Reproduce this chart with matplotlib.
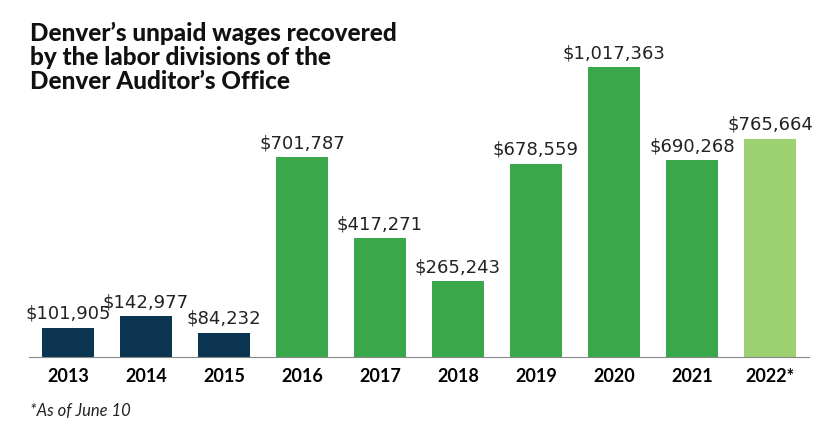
import matplotlib
matplotlib.use("Agg")
import matplotlib.pyplot as plt

years = ["2013", "2014", "2015", "2016", "2017", "2018", "2019", "2020", "2021", "2022*"]
values = [101905, 142977, 84232, 701787, 417271, 265243, 678559, 1017363, 690268, 765664]
colors = ["#0b3550"] * 3 + ["#3aa84a"] * 6 + ["#9dd070"]

fig = plt.figure(figsize=(8.4, 4.41), dpi=100)
ax = fig.add_axes([29 / 840, 84 / 441, 780 / 840, 299 / 441])
x = range(len(years))
ax.bar(x, values, width=0.67, color=colors)
ax.set_xlim(-0.5, len(years) - 0.5)
ax.set_ylim(0, 1.05e6)
for i, v in enumerate(values):
    ax.text(i, v + 18000, "${:,}".format(v), ha="center", va="bottom",
            fontsize=13, family="DejaVu Sans", color="#222222")
ax.set_xticks(list(x))
ax.set_xticklabels(years, fontsize=13, fontweight="bold", family="Lato")
ax.tick_params(axis="x", length=0, pad=8)
ax.set_yticks([])
for s in ["top", "right", "left"]:
    ax.spines[s].set_visible(False)
ax.spines["bottom"].set_color("#888888")
ax.spines["bottom"].set_linewidth(0.8)

fig.text(30 / 840, 1 - 22 / 441,
         "Denver\u2019s unpaid wages recovered\nby the labor divisions of the\nDenver Auditor\u2019s Office",
         ha="left", va="top", fontsize=17.5, fontweight="heavy", family="Lato",
         color="#111111", linespacing=1.05)
fig.text(30 / 840, 1 - 411 / 441, "*As of June 10", ha="left", va="center",
         fontsize=12, style="italic", family="Lato", color="#222222")

fig.savefig("out.png", dpi=100)
